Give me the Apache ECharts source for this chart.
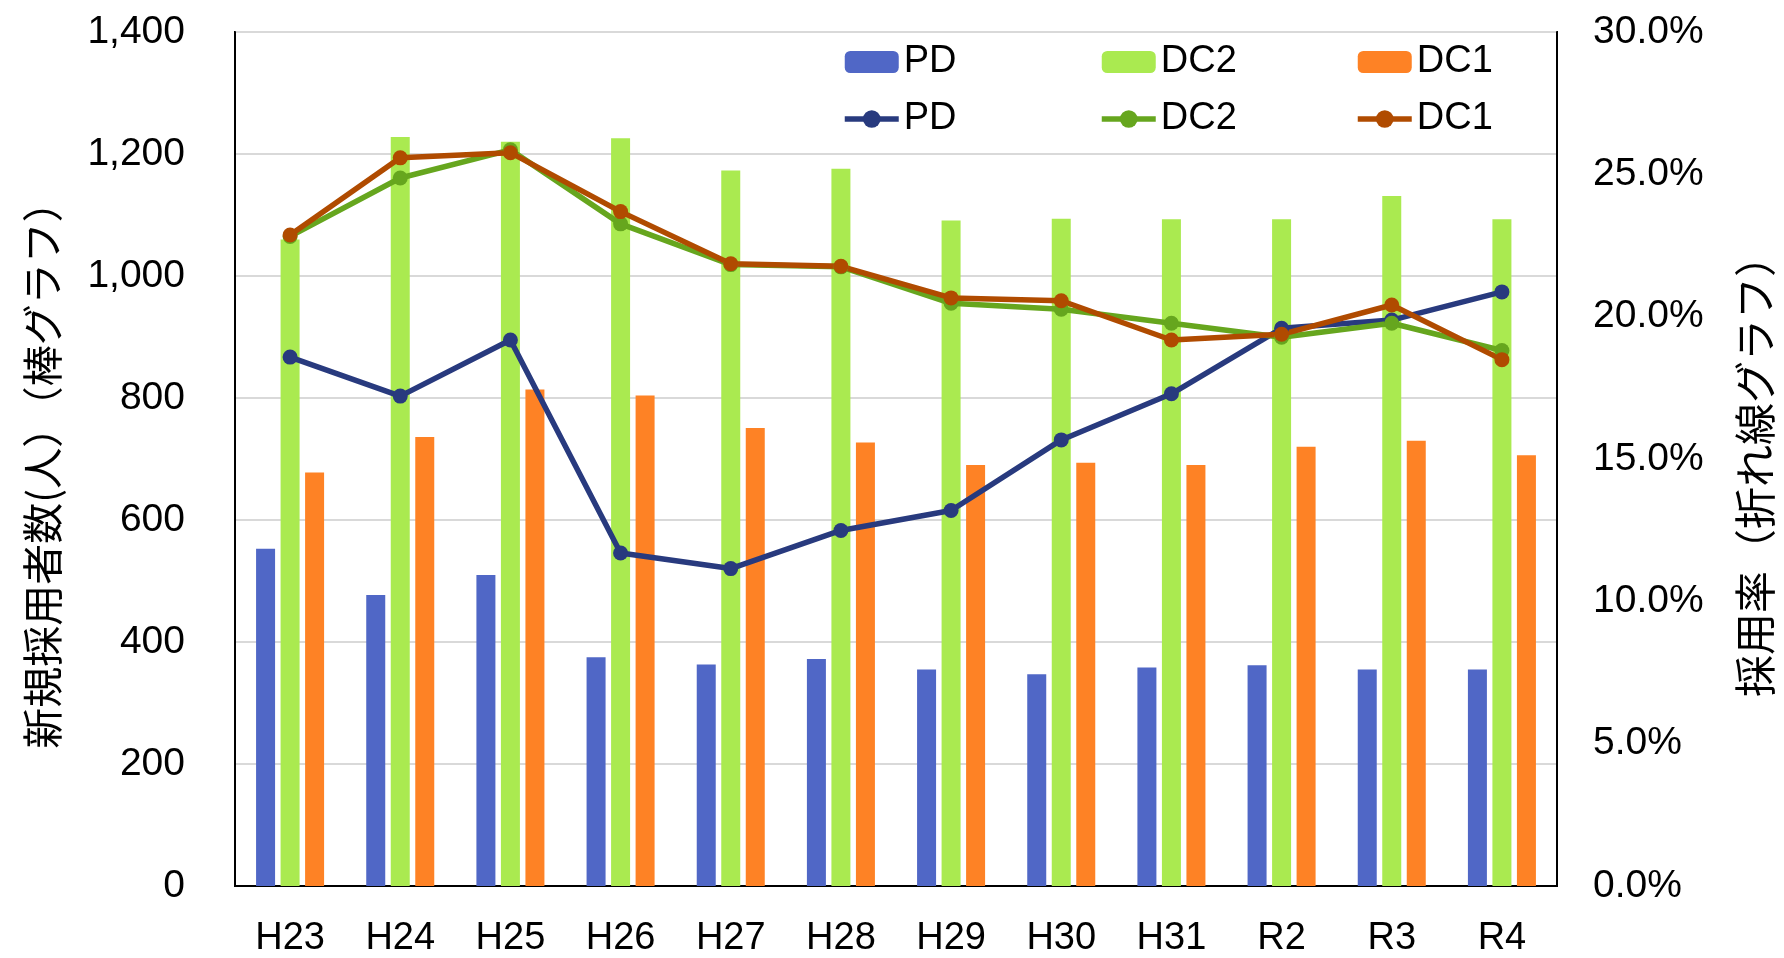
<!DOCTYPE html>
<html>
<head>
<meta charset="utf-8">
<script src="https://cdn.jsdelivr.net/npm/echarts@6/dist/echarts.min.js"></script>
<style>
  html, body { margin: 0; padding: 0; background: #fff; }
  #chart { width: 1784px; height: 958px; }
</style>
</head>
<body>
<div id="chart"></div>
<script>
const years = ['H23', 'H24', 'H25', 'H26', 'H27', 'H28', 'H29', 'H30', 'H31', 'R2', 'R3', 'R4'];

// new hires (bars, left axis)
const pdCount = [553, 477, 510, 375, 363, 372, 355, 347, 358, 362, 355, 355];
const dc2Count = [1060, 1228, 1220, 1226, 1173, 1176, 1091, 1094, 1093, 1093, 1131, 1093];
const dc1Count = [678, 736, 814, 804, 751, 727, 690, 694, 690, 720, 730, 706];

// hiring rate % (lines, right axis)
const pdRate = [18.58, 17.21, 19.18, 11.70, 11.15, 12.49, 13.19, 15.67, 17.29, 19.59, 19.88, 20.87];
const dc2Rate = [22.82, 24.87, 25.86, 23.26, 21.83, 21.75, 20.47, 20.26, 19.77, 19.28, 19.77, 18.81];
const dc1Rate = [22.87, 25.58, 25.76, 23.69, 21.86, 21.77, 20.66, 20.56, 19.18, 19.38, 20.41, 18.49];

// legend columns: bar item above, line item below
const legendCols = [['PD', 'PD '], ['DC2', 'DC2 '], ['DC1', 'DC1 ']];
const legendLeft = [842, 1099, 1355];

const font = '"Liberation Sans", Arial, sans-serif';
const cjkFont = '"Noto Sans CJK JP", sans-serif';

const chart = echarts.init(document.getElementById('chart'));

const barSeries = (name, data, color) => ({
  name,
  type: 'bar',
  data,
  barWidth: 19,
  barGap: '29%',
  itemStyle: { color },
});

const lineSeries = (name, data, color) => ({
  name,
  type: 'line',
  yAxisIndex: 1,
  data,
  symbol: 'circle',
  symbolSize: 15,
  lineStyle: { color, width: 5.5 },
  itemStyle: { color },
  z: 3,
});

chart.setOption({
  animation: false,
  backgroundColor: '#fff',
  grid: {
    left: 235,
    right: 222,
    top: 32,
    bottom: 67,
    show: true,
    borderColor: '#000',
    borderWidth: 2,
  },
  legend: legendCols.map((names, i) => ({
    orient: 'vertical',
    left: legendLeft[i],
    top: 42,
    padding: 0,
    itemWidth: 54,
    itemHeight: 22,
    itemGap: 17,
    data: names,
    lineStyle: { width: 5.5 },
    textStyle: { fontFamily: font, fontSize: 38, lineHeight: 40, color: '#000' },
  })),
  xAxis: {
    type: 'category',
    data: years,
    axisTick: { show: false },
    axisLine: { lineStyle: { color: '#000', width: 2 } },
    axisLabel: { fontFamily: font, fontSize: 38, color: '#000', margin: 34 },
  },
  yAxis: [
    {
      type: 'value',
      min: 0,
      max: 1400,
      interval: 200,
      name: '新規採用者数(人）（棒グラフ）',
      nameLocation: 'middle',
      nameRotate: 90,
      nameGap: 172,
      nameTextStyle: { fontFamily: cjkFont, fontSize: 41, color: '#000', padding: [0, 0, 0, -12] },
      axisLine: { show: true, lineStyle: { color: '#000', width: 2 } },
      axisTick: { show: false },
      axisLabel: {
        fontFamily: font, fontSize: 39, color: '#000', margin: 50,
        formatter: v => v.toLocaleString('en-US'),
      },
      splitLine: { lineStyle: { color: '#d9d9d9', width: 2 } },
    },
    {
      type: 'value',
      min: 0,
      max: 30,
      interval: 5,
      name: '採用率（折れ線グラフ）',
      nameLocation: 'middle',
      nameRotate: 90,
      nameGap: 177,
      nameTextStyle: { fontFamily: cjkFont, fontSize: 42, color: '#000', padding: [0, 0, 0, -14] },
      axisLine: { show: true, lineStyle: { color: '#000', width: 2 } },
      axisTick: { show: false },
      axisLabel: {
        fontFamily: font, fontSize: 39, color: '#000', margin: 36,
        formatter: v => v.toFixed(1) + '%',
      },
      splitLine: { show: false },
    },
  ],
  series: [
    barSeries('PD', pdCount, '#5067c6'),
    barSeries('DC2', dc2Count, '#aaea50'),
    barSeries('DC1', dc1Count, '#fe8225'),
    lineSeries('PD ', pdRate, '#283a7e'),
    lineSeries('DC2 ', dc2Rate, '#66a61e'),
    lineSeries('DC1 ', dc1Rate, '#b04b00'),
  ],
});

window.addEventListener('resize', () => chart.resize());
</script>
</body>
</html>
